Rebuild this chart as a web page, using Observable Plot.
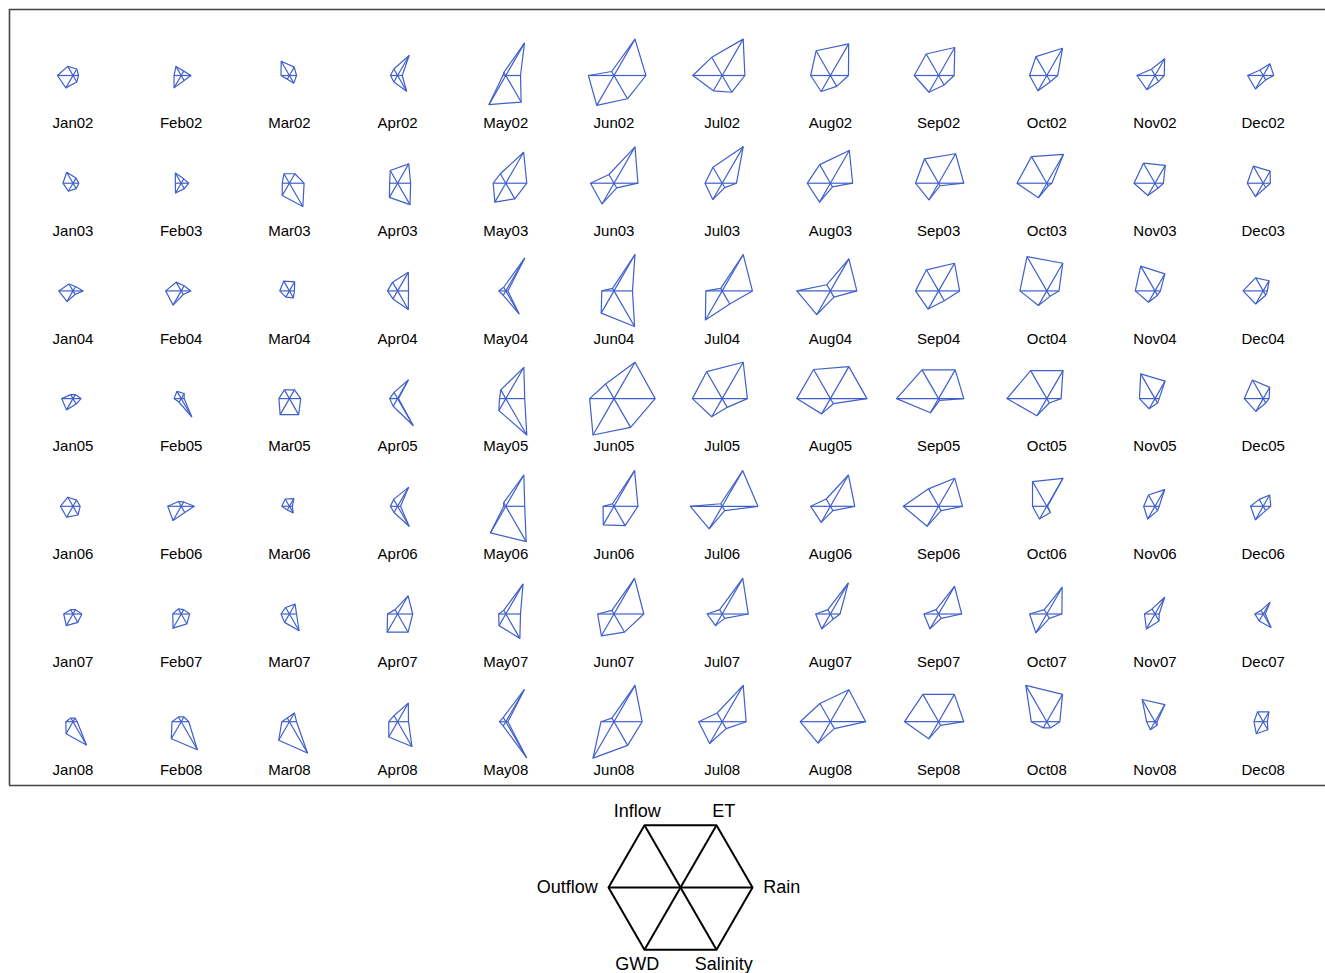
<!DOCTYPE html>
<html><head><meta charset="utf-8">
<script src="https://cdn.jsdelivr.net/npm/d3@7"></script>
<script src="https://cdn.jsdelivr.net/npm/@observablehq/plot@0.6"></script>
<style>
body{margin:0;background:#fff;font-family:"Liberation Sans",Arial,Helvetica,sans-serif;}
svg{display:block;}
</style></head><body><div id="chart"></div><div id="key"></div>
<script>
// ---- data (scaled 0..1 per variable, order Jan02 .. Dec08) ----
const months = ["Jan","Feb","Mar","Apr","May","Jun","Jul","Aug","Sep","Oct","Nov","Dec"];
const years = ["02","03","04","05","06","07","08"];
const variables = ["Rain","ET","Inflow","Outflow","GWD","Salinity"];

const rain = [
 .13,.23,.17,.11,.35,.76,.54,.43,.37,.26,.22,.25,
 .14,.18,.35,.31,.50,.57,.34,.53,.60,.12,.20,.17,
 .24,.23,.12,.26,.05,.44,.72,.63,.50,.29,.13,.10,
 .19,.07,.27,.02,.45,.98,.60,.87,.60,.34,.10,.14,
 .17,.31,.07,.07,.45,.57,.85,.58,.57,.02,.10,.18,
 .21,.20,.17,.36,.35,.71,.62,.23,.55,.36,.10,.05,
 .10,.18,.17,.26,.05,.67,.57,.84,.60,.31,.05,.10];
const et = [
 .18,.12,.23,.55,.89,1.0,1.0,.87,.77,.75,.46,.32,
 .14,.12,.26,.53,.85,1.0,1.0,.90,.81,.79,.49,.33,
 .12,.14,.25,.51,.90,1.0,1.0,.88,.76,.76,.47,.28,
 .11,.14,.24,.51,.86,1.0,1.0,.88,.79,.77,.48,.31,
 .17,.12,.21,.52,.86,.98,.98,.86,.77,.77,.46,.31,
 .12,.12,.27,.50,.82,.98,.98,.85,.76,.73,.46,.32,
 .10,.13,.24,.51,.88,1.0,1.0,.88,.75,.75,.47,.27];
const inflow = [
 .25,.25,.39,.18,.09,.11,.50,.68,.59,.52,.17,.15,
 .30,.28,.26,.35,.26,.24,.44,.51,.67,.73,.55,.47,
 .19,.24,.27,.24,.10,.07,.07,.17,.58,.94,.68,.36,
 .11,.20,.24,.17,.24,.40,.74,.80,.79,.77,.68,.51,
 .25,.13,.20,.19,.10,.07,.07,.20,.48,.68,.31,.19,
 .12,.14,.18,.12,.10,.10,.12,.12,.12,.12,.14,.10,
 .10,.13,.10,.17,.12,.10,.24,.50,.75,1.0,.61,.27];
const outflow = [
 .37,.17,.20,.17,.07,.61,.70,.47,.58,.41,.43,.37,
 .24,.14,.17,.19,.30,.56,.41,.55,.55,.71,.50,.38,
 .34,.37,.23,.24,.17,.29,.39,.80,.55,.64,.47,.48,
 .27,.17,.25,.19,.15,.58,.71,.80,1.0,.95,.37,.45,
 .30,.32,.18,.17,.05,.26,.76,.47,.84,.34,.27,.30,
 .22,.20,.20,.24,.17,.39,.36,.35,.35,.41,.25,.20,
 .17,.22,.18,.21,.15,.31,.56,.72,.81,.37,.20,.22];
const gwd = [
 .34,.34,.10,.18,.80,.82,.42,.44,.46,.42,.39,.37,
 .22,.27,.34,.39,.52,.57,.45,.52,.46,.40,.34,.37,
 .29,.39,.17,.22,.12,.61,.80,.65,.50,.40,.31,.36,
 .31,.10,.44,.21,.33,1.0,.50,.42,.39,.47,.28,.35,
 .30,.39,.10,.17,.73,.51,.62,.44,.55,.35,.35,.37,
 .32,.39,.23,.50,.32,.60,.32,.41,.41,.52,.41,.19,
 .33,.47,.51,.42,.12,1.0,.60,.59,.47,.17,.22,.33];
const salinity = [
 .18,.14,.21,.43,.73,.64,.46,.30,.26,.17,.17,.12,
 .15,.15,.64,.59,.43,.13,.12,.10,.07,.07,.14,.12,
 .10,.10,.19,.51,.63,.98,.36,.17,.27,.15,.12,.12,
 .15,.50,.44,.74,1.0,.79,.24,.14,.05,.12,.12,.12,
 .24,.17,.18,.55,.97,.53,.12,.12,.12,.17,.12,.12,
 .23,.27,.46,.50,.67,.50,.12,.14,.12,.12,.19,.37,
 .64,.77,.86,.68,.99,.65,.19,.19,.10,.17,.10,.22];
const series = [rain, et, inflow, outflow, gwd, salinity];

// ---- layout ----
const W = 1325, H = 790, mL = 9, mT = 9, mB = 5, mR = 0;
const colStep = 108.2, rowStep = 107.7, firstX = 72.5, firstY = 75;
const starR = 42;               // pixels for value 1
const rx = starR / colStep, ry = starR / rowStep;
const labelDy = 48 / rowStep;
const xDomain = [-(firstX - mL) / colStep, (W - mR - firstX) / colStep];
const yDomain = [-(H - mB - firstY) / rowStep, (firstY - mT) / rowStep];
const angle = i => i * Math.PI / 3;

const stars = [], verts = [], spokes = [];
for (let k = 0; k < months.length * years.length; k++) {
  const col = k % 12, row = Math.floor(k / 12);
  const name = months[col] + years[row];
  const cx = col, cy = -row;
  stars.push({name, cx, cy});
  const pts = series.map((s, i) => ({name, x: cx + s[k] * Math.cos(angle(i)) * rx, y: cy + s[k] * Math.sin(angle(i)) * ry}));
  pts.forEach(p => { verts.push(p); spokes.push({cx, cy, x: p.x, y: p.y}); });
  verts.push({...pts[0]});
}

const blue = "#3f5fcc";
const chart = Plot.plot({
  width: W, height: H,
  marginTop: mT, marginLeft: mL, marginRight: mR, marginBottom: mB,
  x: {domain: xDomain, axis: null},
  y: {domain: yDomain, axis: null},
  style: {fontFamily: '"Liberation Sans", Arial, Helvetica, sans-serif', background: "white"},
  marks: [
    Plot.ruleY([yDomain[0], yDomain[1]], {stroke: "#444", strokeWidth: 1.6}),
    Plot.ruleX([xDomain[0]], {stroke: "#444", strokeWidth: 1.6}),
    Plot.link(spokes, {x1: "cx", y1: "cy", x2: "x", y2: "y", stroke: blue, strokeWidth: 1.2}),
    Plot.line(verts, {x: "x", y: "y", z: "name", stroke: blue, strokeWidth: 1.2}),
    Plot.text(stars, {x: "cx", y: d => d.cy - labelDy, text: "name", fontSize: 15, fill: "black"})
  ]
});
document.getElementById("chart").appendChild(chart);

// ---- key ----
const KH = 183, kcx = 680, kcy = 97, kR = 72;
const kx = [-kcx / kR, (W - kcx) / kR], ky = [-(KH - kcy) / kR, kcy / kR];
const keyPts = variables.map((v, i) => ({name: v, x: Math.cos(angle(i)), y: Math.sin(angle(i))}));
const keyPoly = [...keyPts, keyPts[0]];
const keyLab = keyPts.map(p => ({...p, lx: p.x * 1.2, ly: p.y * 1.23}));
const key = Plot.plot({
  width: W, height: KH, margin: 0,
  x: {domain: kx, axis: null},
  y: {domain: ky, axis: null},
  style: {fontFamily: '"Liberation Sans", Arial, Helvetica, sans-serif', background: "white"},
  marks: [
    Plot.link(keyPts, {x1: 0, y1: 0, x2: "x", y2: "y", stroke: "black", strokeWidth: 2}),
    Plot.line(keyPoly, {x: "x", y: "y", stroke: "black", strokeWidth: 2}),
    Plot.text(keyLab.filter(d => d.x > 0.9), {x: d => d.x * 1.15, y: "ly", text: "name", textAnchor: "start", fontSize: 18, fill: "black"}),
    Plot.text(keyLab.filter(d => d.x < -0.9), {x: d => d.x * 1.15, y: "ly", text: "name", textAnchor: "end", fontSize: 18, fill: "black"}),
    Plot.text(keyLab.filter(d => Math.abs(d.x) <= 0.9), {x: "lx", y: "ly", text: "name", textAnchor: "middle", fontSize: 18, fill: "black"})
  ]
});
document.getElementById("key").appendChild(key);
</script></body></html>
